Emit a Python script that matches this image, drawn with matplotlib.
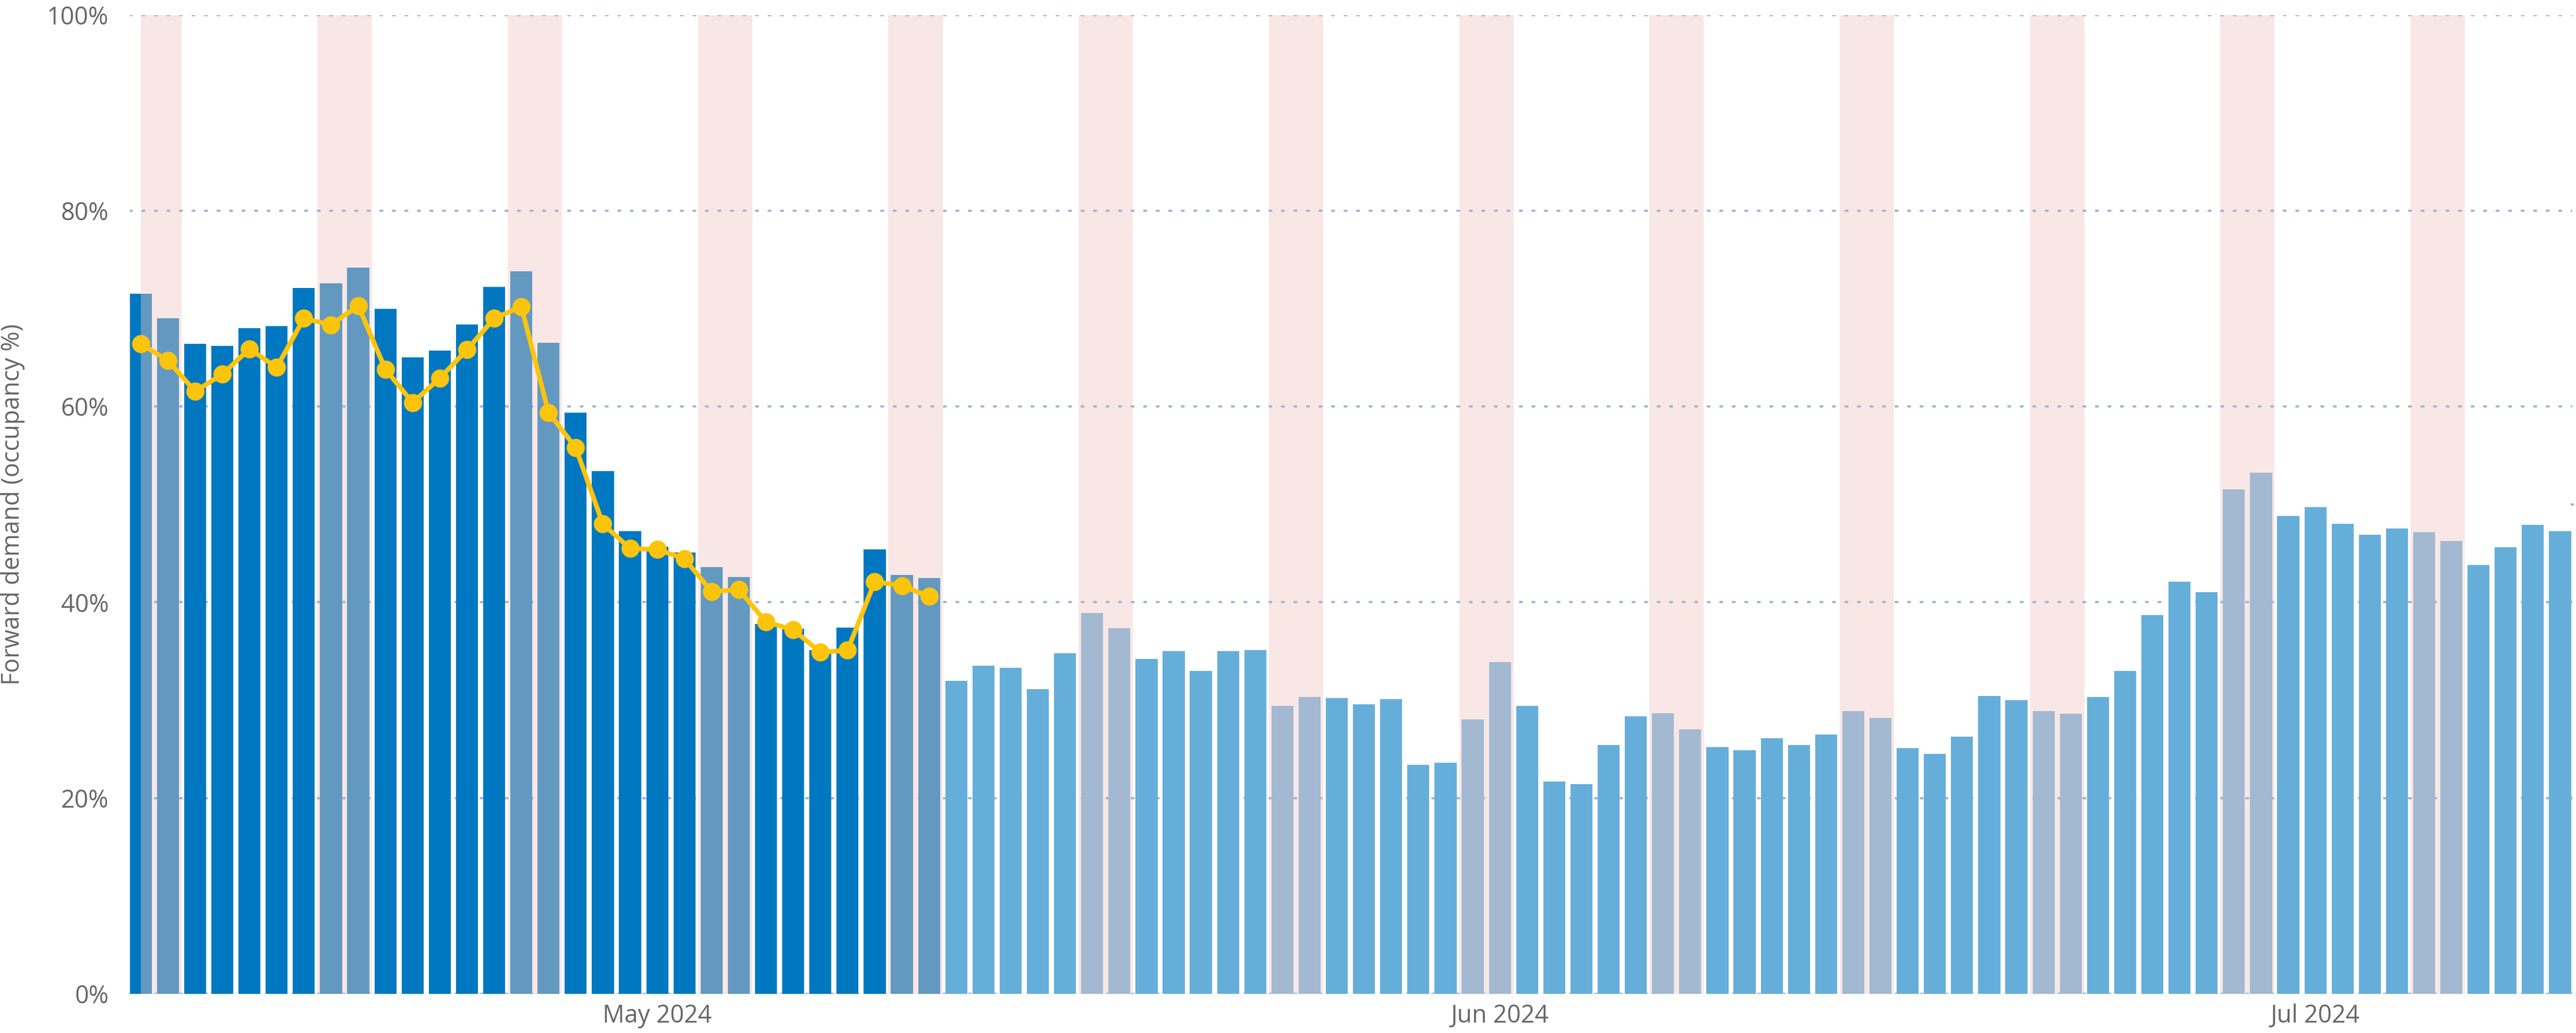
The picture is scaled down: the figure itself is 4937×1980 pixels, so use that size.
import numpy as np
import pandas as pd
import matplotlib
matplotlib.use("Agg")
import matplotlib.pyplot as plt
import matplotlib.dates as mdates
from matplotlib.patches import Rectangle

# ---------------- data ----------------
start_date = "2024-04-12"
occupancy = [
    71.5, 69.0, 66.4, 66.2, 68.0, 68.2, 72.1, 72.6, 74.2, 70.0,
    65.0, 65.7, 68.4, 72.2, 73.8, 66.5, 59.4, 53.4, 47.3, 45.7,
    45.1, 43.6, 42.6, 37.8, 37.3, 35.1, 37.4, 45.4, 42.8, 42.5,
    32.0, 33.5, 33.3, 31.1, 34.8, 38.9, 37.35, 34.2, 35.0, 33.0,
    35.0, 35.1, 29.4, 30.3, 30.2, 29.6, 30.1, 23.4, 23.6, 28.05,
    33.9, 29.4, 21.7, 21.4, 25.4, 28.35, 28.7, 27.0, 25.2, 24.9,
    26.1, 25.4, 26.5, 28.9, 28.2, 25.1, 24.5, 26.3, 30.45, 30.0,
    28.9, 28.6, 30.3, 33.0, 38.7, 42.1, 41.05, 51.55, 53.25, 48.8,
    49.75, 48.0, 46.9, 47.55, 47.15, 46.25, 43.8, 45.6, 47.9, 47.25,
]
# yellow comparison series (only for the actualised period)
comparison = [
    66.4, 64.7, 61.55, 63.3, 65.9, 64.0, 69.0, 68.35, 70.3, 63.8,
    60.4, 62.9, 65.8, 69.0, 70.2, 59.4, 55.8, 48.0, 45.5, 45.4,
    44.45, 41.1, 41.3, 38.0, 37.2, 34.9, 35.1, 42.1, 41.7, 40.6,
]
weekend_names = ["Friday", "Saturday"]
y_ticks = [0, 20, 40, 60, 80, 100]
y_tick_labels = ["0%", "20%", "40%", "60%", "80%", "100%"]
target_level = 50
y_label = "Forward demand (occupancy %)"

# ---------------- styles ----------------
C_PAST = "#0078C1"
C_PAST_WE = "#6399C1"
C_FUT = "#66AEDA"
C_FUT_WE = "#A2B9D1"
C_BAND = "#F9E7E5"
C_LINE = "#FDC40C"
C_GRID = "#A2B5D4"
C_TEXT = "#666666"
FONT = ["Open Sans", "DejaVu Sans"]
FS = 33.5

plt.rcParams["font.family"] = FONT

dates = pd.date_range(start_date, periods=len(occupancy), freq="D")
x = mdates.date2num(dates)
n_actual = len(comparison)
is_weekend = np.array([d.day_name() in weekend_names for d in dates])
is_past = np.arange(len(occupancy)) < n_actual

fig = plt.figure(figsize=(49.37, 19.80), dpi=100)
ax = fig.add_axes([0.05037, 0.03788, 0.9482, 0.9476])

bar_w = 0.81
ax.set_xlim(x[0] - 0.405, x[-1] + 0.45)
ax.set_ylim(0, 100)

# weekend bands (runs of consecutive weekend days, clipped to first date)
bands = []
i = 0
n = len(occupancy)
while i < n:
    if is_weekend[i]:
        j = i
        while j + 1 < n and is_weekend[j + 1]:
            j += 1
        left = max(x[i] - 0.5, x[0])
        right = x[j] + 0.5
        r = Rectangle((left, 0), right - left, 100, facecolor=C_BAND,
                      edgecolor="none", zorder=0.1)
        ax.add_patch(r)
        bands.append((i, j, r))
        i = j + 1
    else:
        i += 1

# base bars
base_colors = [C_PAST if p else C_FUT for p in is_past]
ax.bar(x, occupancy, width=bar_w, color=base_colors, zorder=2, linewidth=0)

# weekend-coloured bars clipped to the bands
for (a, b, rect) in bands:
    idx = list(range(a, b + 1))
    cols = [C_PAST_WE if is_past[k] else C_FUT_WE for k in idx]
    bc = ax.bar(x[idx], [occupancy[k] for k in idx], width=bar_w, color=cols,
                zorder=2.1, linewidth=0)
    for p in bc.patches:
        p.set_clip_path(rect)

# comparison line
ax.plot(x[:n_actual], comparison, color=C_LINE, lw=6.5, marker="o",
        ms=25, markeredgewidth=0, zorder=4, solid_capstyle="round")

# grid
ax.set_axisbelow(True)
ax.set_yticks(y_ticks)
ax.set_yticklabels(y_tick_labels)
ax.yaxis.grid(True, color=C_GRID, linewidth=3.2, linestyle=(0, (0.8, 4.6)),
              dash_capstyle="round")
ax.xaxis.grid(False)

# small target marker at right edge
ax.plot([ax.get_xlim()[1]], [target_level], marker="_", ms=5, mew=3.2,
        color=C_GRID, clip_on=False, zorder=1)

# x ticks at month starts
ax.xaxis.set_major_locator(mdates.MonthLocator(bymonthday=1))
ax.xaxis.set_major_formatter(mdates.DateFormatter("%b %Y"))

ax.tick_params(axis="both", length=0, labelsize=FS, labelcolor=C_TEXT)
ax.tick_params(axis="y", pad=29)
ax.tick_params(axis="x", pad=13)

for s in ax.spines.values():
    s.set_visible(False)

fig.text(24 / 4937, 1 - 967 / 1980, y_label, rotation=90, ha="center",
         va="center", fontsize=FS, color=C_TEXT)

fig.savefig("out.png", dpi=100, facecolor="white")
